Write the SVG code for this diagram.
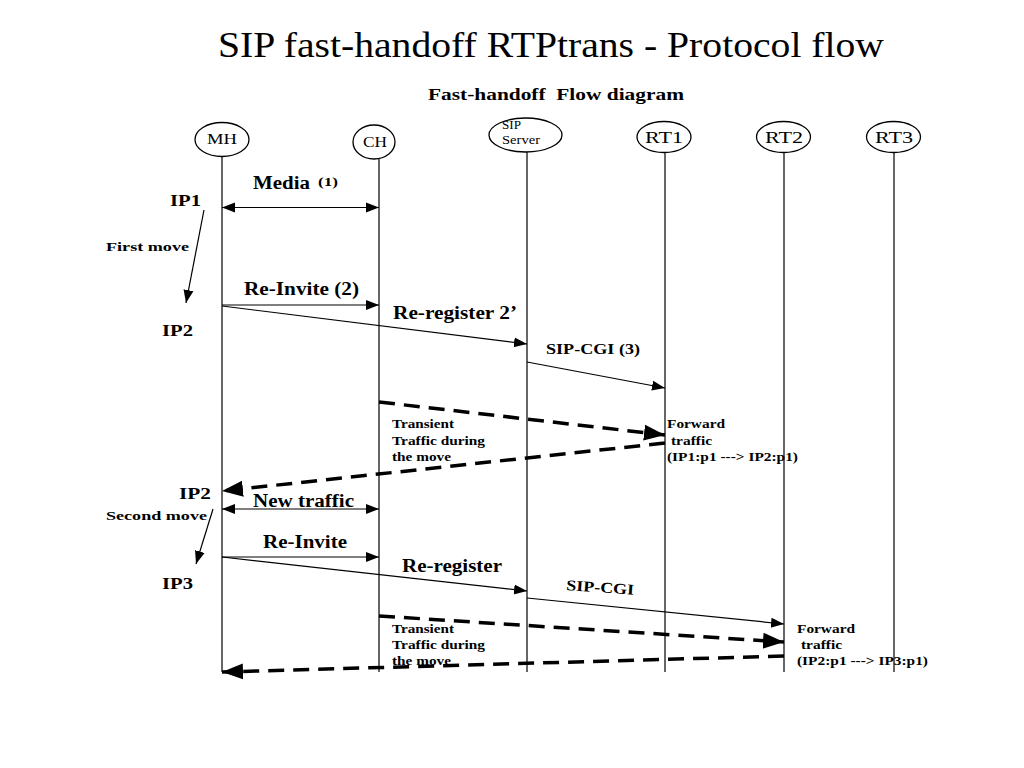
<svg xmlns="http://www.w3.org/2000/svg" width="1024" height="768" viewBox="0 0 1024 768">
<defs>
<marker id="ah" markerUnits="userSpaceOnUse" markerWidth="14" markerHeight="12" refX="13" refY="6" orient="auto-start-reverse" viewBox="0 0 14 12">
<path d="M0,1 L13,6 L0,11 Z" fill="#000"/>
</marker>
<marker id="ahd" markerUnits="userSpaceOnUse" markerWidth="22" markerHeight="18" refX="21" refY="9" orient="auto" viewBox="0 0 22 18">
<path d="M0,1 L21,9 L0,17 Z" fill="#000"/>
</marker>
</defs>
<style>
text{font-family:"Liberation Serif","Times New Roman",serif;fill:#000}
.b{font-weight:bold}
.node ellipse{fill:#fff;stroke:#000;stroke-width:1.3}
.life{stroke:#333;stroke-width:1.5}
.msg{stroke:#000;stroke-width:1.2;fill:none}
.dash{stroke:#000;stroke-width:3.5;fill:none;stroke-dasharray:16 9}
</style>
<rect width="1024" height="768" fill="#fff"/>
<text x="218" y="57" font-size="36" textLength="666" lengthAdjust="spacingAndGlyphs">SIP fast-handoff RTPtrans - Protocol flow</text>
<text x="428" y="100" font-size="16" class="b" textLength="256" lengthAdjust="spacingAndGlyphs" style="white-space:pre">Fast-handoff  Flow diagram</text>

<g id="lifelines">
<line class="life" x1="222" y1="156" x2="222" y2="672"/>
<line class="life" x1="379" y1="159" x2="379" y2="672"/>
<line class="life" x1="527" y1="152" x2="527" y2="672"/>
<line class="life" x1="665" y1="152" x2="665" y2="672"/>
<line class="life" x1="784" y1="152" x2="784" y2="672"/>
<line class="life" x1="894" y1="152" x2="894" y2="672"/>
</g>

<g id="node-MH" class="node"><ellipse cx="222" cy="139.5" rx="27" ry="17"/><text x="207" y="144" font-size="15" textLength="30" lengthAdjust="spacingAndGlyphs">MH</text></g>
<g id="node-CH" class="node"><ellipse cx="374" cy="142" rx="21" ry="17"/><text x="363" y="147" font-size="15" textLength="24" lengthAdjust="spacingAndGlyphs">CH</text></g>
<g id="node-SIP" class="node"><ellipse cx="525.5" cy="135" rx="36.5" ry="17"/><text x="502" y="129" font-size="13" textLength="19" lengthAdjust="spacingAndGlyphs">SIP</text><text x="502" y="144" font-size="13" textLength="38" lengthAdjust="spacingAndGlyphs">Server</text></g>
<g id="node-RT1" class="node"><ellipse cx="664" cy="137" rx="27" ry="15.5"/><text x="645" y="143" font-size="17" textLength="38" lengthAdjust="spacingAndGlyphs">RT1</text></g>
<g id="node-RT2" class="node"><ellipse cx="783.5" cy="137" rx="27" ry="15.5"/><text x="765" y="143" font-size="17" textLength="38" lengthAdjust="spacingAndGlyphs">RT2</text></g>
<g id="node-RT3" class="node"><ellipse cx="893.5" cy="137" rx="27" ry="15.5"/><text x="875" y="143" font-size="17" textLength="38" lengthAdjust="spacingAndGlyphs">RT3</text></g>

<g id="connectors">
<line class="msg" x1="222" y1="207.5" x2="379" y2="207.5" marker-start="url(#ah)" marker-end="url(#ah)"/>
<line class="msg" x1="204" y1="210" x2="186" y2="303" marker-end="url(#ah)"/>
<line class="msg" x1="222" y1="305" x2="379" y2="305" marker-end="url(#ah)"/>
<line class="msg" x1="222" y1="306" x2="527" y2="344" marker-end="url(#ah)"/>
<line class="msg" x1="527" y1="362" x2="665" y2="388" marker-end="url(#ah)"/>
<line class="dash" x1="379" y1="402" x2="665" y2="435" marker-end="url(#ahd)"/>
<line class="dash" x1="665" y1="443" x2="222" y2="491" marker-end="url(#ahd)"/>
<line class="msg" x1="222" y1="509" x2="379" y2="509" marker-start="url(#ah)" marker-end="url(#ah)"/>
<line class="msg" x1="213" y1="509" x2="196" y2="564" marker-end="url(#ah)"/>
<line class="msg" x1="222" y1="557" x2="379" y2="557" marker-end="url(#ah)"/>
<line class="msg" x1="222" y1="557" x2="527" y2="591" marker-end="url(#ah)"/>
<line class="msg" x1="527" y1="598" x2="784" y2="624" marker-end="url(#ah)"/>
<line class="dash" x1="379" y1="616" x2="784" y2="642" marker-end="url(#ahd)"/>
<line class="dash" x1="784" y1="656" x2="222" y2="672" marker-end="url(#ahd)"/>
</g>

<g id="labels" class="b">
<text x="253" y="189" font-size="18" textLength="57" lengthAdjust="spacingAndGlyphs">Media</text>
<text x="318" y="186" font-size="12" textLength="20" lengthAdjust="spacingAndGlyphs">(1)</text>
<text x="170" y="206" font-size="17" textLength="31" lengthAdjust="spacingAndGlyphs">IP1</text>
<text x="106" y="251" font-size="13" textLength="83" lengthAdjust="spacingAndGlyphs">First move</text>
<text x="162" y="336" font-size="17" textLength="31" lengthAdjust="spacingAndGlyphs">IP2</text>
<text x="244" y="295" font-size="18" textLength="115" lengthAdjust="spacingAndGlyphs">Re-Invite (2)</text>
<text x="393" y="319" font-size="18" textLength="124" lengthAdjust="spacingAndGlyphs">Re-register 2’</text>
<text x="546" y="354" font-size="15" textLength="94" lengthAdjust="spacingAndGlyphs">SIP-CGI (3)</text>
<text x="392" y="428" font-size="12.5" textLength="62" lengthAdjust="spacingAndGlyphs">Transient</text>
<text x="392" y="445" font-size="12.5" textLength="93" lengthAdjust="spacingAndGlyphs">Traffic during</text>
<text x="392" y="461" font-size="12.5" textLength="59" lengthAdjust="spacingAndGlyphs">the move</text>
<text x="667" y="428" font-size="12.5" textLength="58" lengthAdjust="spacingAndGlyphs">Forward</text>
<text x="671" y="445" font-size="12.5" textLength="41" lengthAdjust="spacingAndGlyphs">traffic</text>
<text x="667" y="461" font-size="12.5" textLength="131" lengthAdjust="spacingAndGlyphs">(IP1:p1 ---&gt; IP2:p1)</text>
<text x="179" y="499" font-size="17" textLength="32" lengthAdjust="spacingAndGlyphs">IP2</text>
<text x="106" y="520" font-size="13" textLength="101" lengthAdjust="spacingAndGlyphs">Second move</text>
<text x="253" y="507" font-size="18" textLength="101" lengthAdjust="spacingAndGlyphs">New traffic</text>
<text x="263" y="548" font-size="18" textLength="84" lengthAdjust="spacingAndGlyphs">Re-Invite</text>
<text x="162" y="589" font-size="17" textLength="31" lengthAdjust="spacingAndGlyphs">IP3</text>
<text x="402" y="572" font-size="18" textLength="100" lengthAdjust="spacingAndGlyphs">Re-register</text>
<text x="566" y="590" font-size="15" textLength="68" lengthAdjust="spacingAndGlyphs" transform="rotate(4 566 590)">SIP-CGI</text>
<text x="392" y="633" font-size="12.5" textLength="62" lengthAdjust="spacingAndGlyphs">Transient</text>
<text x="392" y="649" font-size="12.5" textLength="93" lengthAdjust="spacingAndGlyphs">Traffic during</text>
<text x="392" y="665" font-size="12.5" textLength="59" lengthAdjust="spacingAndGlyphs">the move</text>
<text x="797" y="633" font-size="12.5" textLength="58" lengthAdjust="spacingAndGlyphs">Forward</text>
<text x="801" y="649" font-size="12.5" textLength="41" lengthAdjust="spacingAndGlyphs">traffic</text>
<text x="797" y="665" font-size="12.5" textLength="131" lengthAdjust="spacingAndGlyphs">(IP2:p1 ---&gt; IP3:p1)</text>
</g>
</svg>
